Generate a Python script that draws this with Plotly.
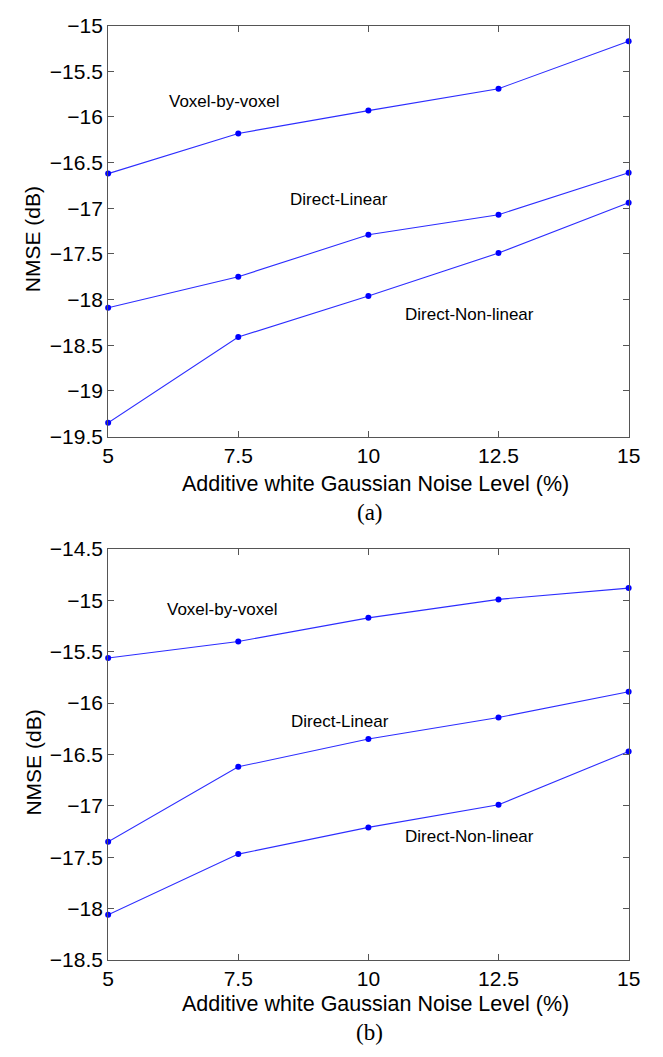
import plotly.graph_objects as go

noise = [5, 7.5, 10, 12.5, 15]
x_ticks = [5, 7.5, 10, 12.5, 15]
x_tick_text = ["5", "7.5", "10", "12.5", "15"]

# (a)
a_voxel = [-16.62, -16.18, -15.93, -15.69, -15.17]
a_linear = [-18.09, -17.75, -17.29, -17.07, -16.61]
a_nonlinear = [-19.35, -18.41, -17.96, -17.49, -16.94]
a_yticks = [-15, -15.5, -16, -16.5, -17, -17.5, -18, -18.5, -19, -19.5]

# (b)
b_voxel = [-15.56, -15.40, -15.17, -14.99, -14.88]
b_linear = [-17.35, -16.62, -16.35, -16.14, -15.89]
b_nonlinear = [-18.06, -17.47, -17.21, -16.99, -16.47]
b_yticks = [-14.5, -15, -15.5, -16, -16.5, -17, -17.5, -18, -18.5]

series_names = ["Voxel-by-voxel", "Direct-Linear", "Direct-Non-linear"]
a_label_pos = [(7.23, -15.83), (9.44, -16.90), (11.95, -18.16)]
b_label_pos = [(7.2, -15.09), (9.46, -16.18), (11.95, -17.30)]

W, H = 663, 1057
LINE = "rgb(45,45,255)"
MARK = "rgb(0,0,255)"
FONT = "Liberation Sans, Arial, sans-serif"

fig = go.Figure()
for xa, ya, data in [("x", "y", [a_voxel, a_linear, a_nonlinear]),
                     ("x2", "y2", [b_voxel, b_linear, b_nonlinear])]:
    for name, ys in zip(series_names, data):
        fig.add_trace(go.Scatter(
            x=noise, y=ys, mode="lines+markers", name=name,
            xaxis=xa, yaxis=ya, showlegend=False,
            line=dict(color=LINE, width=1.1),
            marker=dict(color=MARK, size=6),
            cliponaxis=False,
        ))

def px_x(p):
    return p / W

def px_y(p):
    return 1 - p / H

# plot regions (pixels)
L, R = 105, 640
TA, BA = 14, 434
TB, BB = 549, 969

axis_common = dict(
    showline=True, linecolor="#555555", linewidth=1, mirror="ticks",
    ticks="inside", ticklen=6, tickcolor="#555555", tickwidth=1,
    showgrid=False, zeroline=False,
    tickfont=dict(family=FONT, size=21, color="black"),
)

fig.update_layout(
    width=W, height=H,
    margin=dict(l=0, r=0, t=0, b=0),
    paper_bgcolor="white", plot_bgcolor="white",
    xaxis=dict(domain=[px_x(L), px_x(R)], anchor="y", range=[5, 15],
               tickvals=x_ticks, ticktext=x_tick_text, **axis_common),
    yaxis=dict(domain=[px_y(BA), px_y(TA)], anchor="x", range=[-19.5, -15],
               tickvals=a_yticks, **axis_common),
    xaxis2=dict(domain=[px_x(L), px_x(R)], anchor="y2", range=[5, 15],
                tickvals=x_ticks, ticktext=x_tick_text, **axis_common),
    yaxis2=dict(domain=[px_y(BB), px_y(TB)], anchor="x2", range=[-18.5, -14.5],
                tickvals=b_yticks, **axis_common),
)

ann = []
for xr, yr, pos in [("x", "y", a_label_pos), ("x2", "y2", b_label_pos)]:
    for name, (lx, ly) in zip(series_names, pos):
        ann.append(dict(x=lx, y=ly, xref=xr, yref=yr, text=name, showarrow=False,
                        xanchor="center", yanchor="middle",
                        font=dict(family=FONT, size=17, color="black")))

for top, bot, tag, xl_off, tag_off in [(TA, BA, "(a)", 48, 78), (TB, BB, "(b)", 45, 74)]:
    ann.append(dict(x=px_x(28), y=px_y((top + bot) / 2 + 8), xref="paper", yref="paper",
                    text="NMSE (dB)", textangle=-90, showarrow=False,
                    xanchor="center", yanchor="middle",
                    font=dict(family=FONT, size=21, color="black")))
    ann.append(dict(x=px_x(380), y=px_y(bot + xl_off), xref="paper", yref="paper",
                    text="Additive white Gaussian Noise Level (%)", showarrow=False,
                    xanchor="center", yanchor="middle",
                    font=dict(family=FONT, size=21.5, color="black")))
    ann.append(dict(x=px_x(374), y=px_y(bot + tag_off), xref="paper", yref="paper",
                    text=tag, showarrow=False,
                    xanchor="center", yanchor="middle",
                    font=dict(family="Liberation Serif, Times New Roman, serif", size=23, color="black")))

fig.update_layout(annotations=ann)
fig.write_html("out.html")
